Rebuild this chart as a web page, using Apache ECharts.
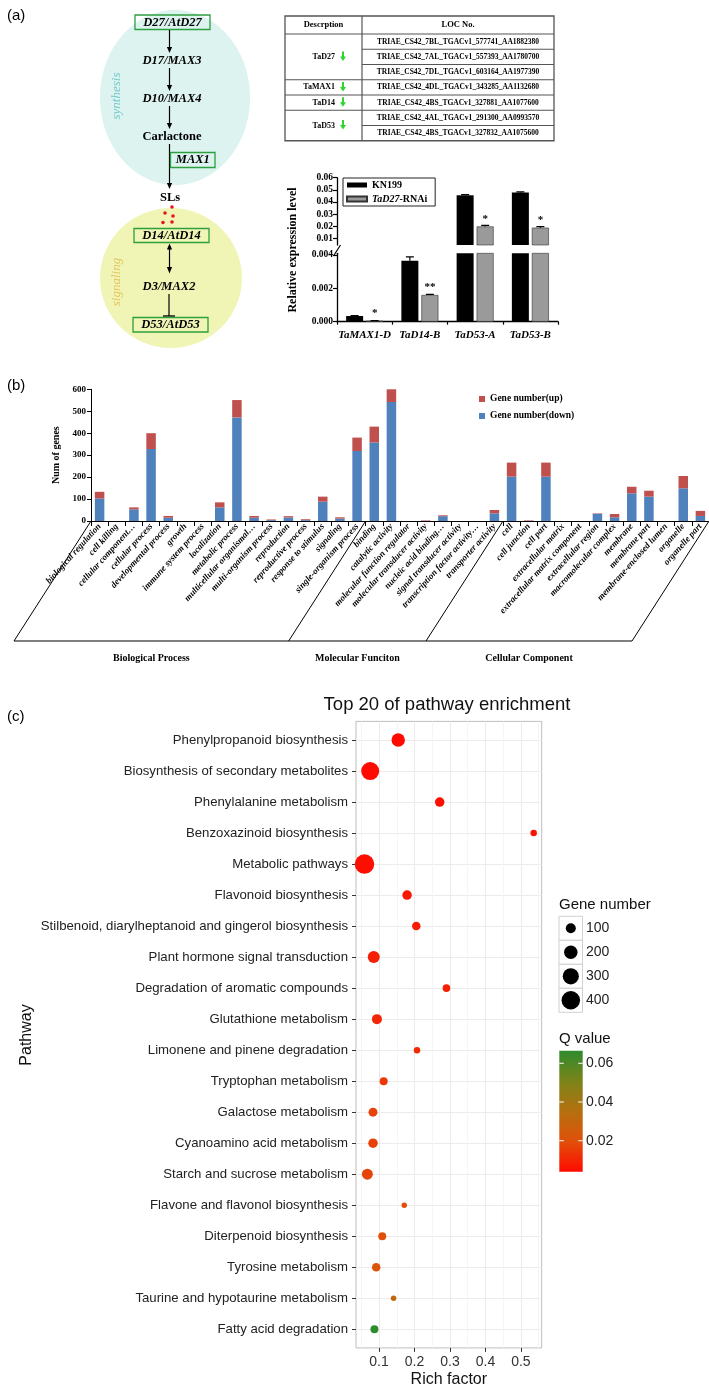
<!DOCTYPE html>
<html>
<head>
<meta charset="utf-8">
<script src="https://cdn.jsdelivr.net/npm/echarts@6.0.0/dist/echarts.min.js"></script>
<style>
html, body { margin: 0; padding: 0; background: #fff; }
#main { width: 709px; height: 1388px; }
</style>
</head>
<body>
<div id="main"></div>
<script>
// ---------- panel (a): expression of SL genes
var genes = ['TaMAX1-D', 'TaD14-B', 'TaD53-A', 'TaD53-B'];
var kn199 = [0.00034, 0.00366, 0.0455, 0.0478];
var rnai = [0.00006, 0.0016, 0.0198, 0.0188];
var kn199Err = [0.00003, 0.00022, 0.0006, 0.0005];
var rnaiErr = [0.00001, 0.00004, 0.0009, 0.0008];
var sigMarks = ['*', '**', '*', '*'];
var upperTicks = [0.01, 0.02, 0.03, 0.04, 0.05, 0.06];
var lowerTicks = [0, 0.002, 0.004];

// table of LOC numbers
var tableGroups = ['TaD27', 'TaMAX1', 'TaD14', 'TaD53'];
var tableGroupRows = [3, 1, 1, 2];
var locNos = [
  'TRIAE_CS42_7BL_TGACv1_577741_AA1882380',
  'TRIAE_CS42_7AL_TGACv1_557393_AA1780700',
  'TRIAE_CS42_7DL_TGACv1_603164_AA1977390',
  'TRIAE_CS42_4DL_TGACv1_343285_AA1132680',
  'TRIAE_CS42_4BS_TGACv1_327881_AA1077600',
  'TRIAE_CS42_4AL_TGACv1_291300_AA0993570',
  'TRIAE_CS42_4BS_TGACv1_327832_AA1075600'
];

// ---------- panel (b): GO classification
var goCategories = [
  'biological regulation', 'cell killing', 'cellular component…', 'cellular process',
  'developmental process', 'growth', 'immune system process', 'localization',
  'metabolic process', 'multicellular organismal…', 'multi-organism process', 'reproduction',
  'reproductive process', 'response to stimulus', 'signaling', 'single-organism process',
  'binding', 'catalytic activity', 'molecular function regulator', 'molecular transducer activity',
  'nucleic acid binding…', 'signal transducer activity', 'transcription factor activity…', 'transporter activity',
  'cell', 'cell junction', 'cell part', 'extracellular matrix',
  'extracellular matrix component', 'extracellular region', 'macromolecular complex', 'membrane',
  'membrane part', 'membrane-enclosed lumen', 'organelle', 'organelle part'
];
var goDown = [103, 0, 53, 328, 15, 0, 0, 62, 472, 15, 4, 16, 4, 88, 11, 319,
              358, 542, 0, 1, 22, 0, 0, 35,
              202, 1, 202, 0, 0, 33, 17, 126, 111, 0, 149, 23];
var goUp = [30, 0, 9, 72, 8, 0, 0, 23, 79, 8, 3, 6, 4, 23, 6, 61,
            72, 60, 0, 2, 4, 0, 0, 15,
            64, 2, 64, 0, 0, 2, 15, 30, 27, 0, 56, 23];
var goGroups = ['Biological Process', 'Molecular Funciton', 'Cellular Component'];
var goGroupSizes = [16, 8, 12];

// ---------- panel (c): KEGG enrichment
var pathways = [
  'Phenylpropanoid biosynthesis', 'Biosynthesis of secondary metabolites', 'Phenylalanine metabolism',
  'Benzoxazinoid biosynthesis', 'Metabolic pathways', 'Flavonoid biosynthesis',
  'Stilbenoid, diarylheptanoid and gingerol biosynthesis', 'Plant hormone signal transduction',
  'Degradation of aromatic compounds', 'Glutathione metabolism', 'Limonene and pinene degradation',
  'Tryptophan metabolism', 'Galactose metabolism', 'Cyanoamino acid metabolism',
  'Starch and sucrose metabolism', 'Flavone and flavonol biosynthesis', 'Diterpenoid biosynthesis',
  'Tyrosine metabolism', 'Taurine and hypotaurine metabolism', 'Fatty acid degradation'
];
var richFactor = [0.154, 0.075, 0.271, 0.536, 0.059, 0.179, 0.205, 0.085, 0.290, 0.094,
                  0.207, 0.113, 0.083, 0.083, 0.067, 0.171, 0.109, 0.092, 0.141, 0.087];
var geneNumber = [200, 378, 88, 28, 447, 88, 66, 155, 46, 100,
                  28, 55, 76, 88, 126, 13, 55, 66, 13, 55];
var qValue = [0.004, 0.004, 0.005, 0.006, 0.005, 0.007, 0.008, 0.009, 0.009, 0.010,
              0.011, 0.014, 0.016, 0.016, 0.017, 0.019, 0.020, 0.021, 0.030, 0.0665];
var richTicks = [0.1, 0.2, 0.3, 0.4, 0.5];
var richMinor = [0.05, 0.15, 0.25, 0.35, 0.45, 0.55];
var sizeLegend = [100, 200, 300, 400];
var qTicks = [0.02, 0.04, 0.06];
var qColors = ['#ff0a00', '#e0500a', '#b5700f', '#7b8419', '#2e8b2e'];

var SERIF = '"Liberation Serif", "Times New Roman", serif';
var NARROW = '"Liberation Sans Narrow", "Liberation Sans", Arial, sans-serif';
var SANS = '"Liberation Sans", Arial, sans-serif';

var chart = echarts.init(document.getElementById('main'));

// grid boxes
var gAU = {left: 337, top: 177.7, width: 221, height: 67.3};
var gAL = {left: 337, top: 253.3, width: 221, height: 68.4};
var gB = {left: 91, top: 389.3, width: 618, height: 131.7};
var gC = {left: 356, top: 721.4, width: 185.7, height: 626.5};

var barW = 17, barGapPx = 3;

function sizeFor(n) { return Math.sqrt(19.3 + 0.807 * n); }

// ---------- graphic helpers
var g = [];
function txt(x, y, s, font, o) {
  o = o || {};
  g.push({
    type: 'text', x: x, y: y, rotation: o.rot || 0, silent: true,
    style: {
      text: s, font: font, fill: o.fill || '#000',
      textAlign: o.align || 'center', align: o.align || 'center',
      textVerticalAlign: 'middle', verticalAlign: 'middle'
    }
  });
}
function line(x1, y1, x2, y2, color, w) {
  g.push({type: 'line', silent: true, shape: {x1: x1, y1: y1, x2: x2, y2: y2},
          style: {stroke: color || '#000', lineWidth: w || 1}});
}
function poly(pts, color) {
  g.push({type: 'polygon', silent: true, shape: {points: pts}, style: {fill: color || '#000'}});
}
function box(x, y, w, h, stroke, fill, lw) {
  g.push({type: 'rect', silent: true, shape: {x: x, y: y, width: w, height: h},
          style: {stroke: stroke || 'none', fill: fill || 'none', lineWidth: lw || 1}});
}
function downArrow(x, y1, y2) {
  line(x, y1, x, y2 - 5, '#000', 1.2);
  poly([[x - 2.6, y2 - 6], [x + 2.6, y2 - 6], [x, y2]]);
}
function upHead(x, y) {
  poly([[x - 2.6, y + 6], [x + 2.6, y + 6], [x, y]]);
}
function greenArrow(x, y) {
  box(x - 1, y - 5, 2, 6, 'none', '#2fd52f');
  poly([[x - 3, y], [x + 3, y], [x, y + 4.5]], '#2fd52f');
}

// ---------- panel labels
txt(7, 16, '(a)', '15px ' + SANS, {align: 'left'});
txt(7, 385.5, '(b)', '15px ' + SANS, {align: 'left'});
txt(7, 716.5, '(c)', '15px ' + SANS, {align: 'left'});

// ---------- pathway diagram
g.push({type: 'ellipse', silent: true, shape: {cx: 175, cy: 97.5, rx: 75, ry: 87.5}, style: {fill: '#dcf3ef'}});
g.push({type: 'ellipse', silent: true, shape: {cx: 171, cy: 278, rx: 71, ry: 70}, style: {fill: '#f0f5b6'}});
var fBI = 'italic bold 12.5px ' + SERIF;
var fB = 'bold 12.5px ' + SERIF;
txt(117, 96, 'synthesis', 'italic 13px ' + SERIF, {rot: Math.PI / 2, fill: '#72c7cd'});
txt(117, 282, 'signaling', 'italic 13px ' + SERIF, {rot: Math.PI / 2, fill: '#e3c45c'});
box(135, 15, 75, 14.5, '#2e9e3e', 'none', 1.3);
txt(172.5, 22.5, 'D27/AtD27', fBI);
downArrow(169.5, 30, 53);
txt(172, 61, 'D17/MAX3', fBI);
downArrow(169.5, 68, 91);
txt(172, 99, 'D10/MAX4', fBI);
downArrow(169.5, 106, 129);
txt(172, 137, 'Carlactone', fB);
downArrow(169.5, 144, 189);
box(170.5, 152.5, 44.5, 15, '#2e9e3e', 'none', 1.3);
txt(192.8, 160.2, 'MAX1', fBI);
txt(170, 197.5, 'SLs', fB);
[[172, 207], [165, 213], [173, 216], [163, 222.5], [172, 222]].forEach(function (p) {
  g.push({type: 'circle', silent: true, shape: {cx: p[0], cy: p[1], r: 1.8}, style: {fill: '#e8141b'}});
});
box(134, 228.5, 75, 14, '#2e9e3e', 'none', 1.3);
txt(171.5, 235.5, 'D14/AtD14', fBI);
line(169.5, 249, 169.5, 268, '#000', 1.2);
upHead(169.5, 243.5);
poly([[166.9, 267], [172.1, 267], [169.5, 273.5]]);
txt(169, 287, 'D3/MAX2', fBI);
line(169, 294, 169, 316, '#000', 1.2);
line(163, 316, 175, 316, '#000', 1.4);
box(133, 317.5, 75, 14.5, '#2e9e3e', 'none', 1.3);
txt(170.5, 324.8, 'D53/AtD53', fBI);

// ---------- LOC table
var tL = 285, tM = 362, tR = 554, tTop = 16, tHead = 34, tRow = 15.25;
var tBottom = tHead + tRow * locNos.length;
box(tL, tTop, tR - tL, tBottom - tTop, '#555', '#fff', 1.3);
line(tM, tTop, tM, tBottom, '#555', 1.2);
line(tL, tHead, tR, tHead, '#555', 1.2);
txt((tL + tM) / 2, 25, 'Descrption', 'bold 8.5px ' + SERIF);
txt((tM + tR) / 2, 25, 'LOC No.', 'bold 8.5px ' + SERIF);
locNos.forEach(function (s, i) {
  var y0 = tHead + i * tRow;
  if (i > 0) line(tM, y0, tR, y0, '#555', 1.1);
  txt((tM + tR) / 2, y0 + tRow / 2, s, 'bold 7.5px ' + SERIF);
});
var rowAcc = 0;
tableGroups.forEach(function (name, i) {
  var y0 = tHead + rowAcc * tRow;
  var y1 = y0 + tableGroupRows[i] * tRow;
  if (i > 0) line(tL, y0, tM, y0, '#555', 1.1);
  txt(335, (y0 + y1) / 2, name, 'bold 8px ' + SERIF, {align: 'right'});
  greenArrow(343, (y0 + y1) / 2 - 0.5);
  rowAcc += tableGroupRows[i];
});

// ---------- panel (a) bar chart decorations
txt(293, 250, 'Relative expression level', 'bold 12px ' + SERIF, {rot: Math.PI / 2});
line(333.5, 256, 340.5, 245, '#000', 1.2);

// ---------- panel (b) brackets below the axis
var catW = gB.width / goCategories.length;
var axisY = gB.top + gB.height;
var slDx = -77, slDy = 120;
var cum = 0;
var bounds = [0];
goGroupSizes.forEach(function (n) { cum += n; bounds.push(cum); });
bounds.forEach(function (k) {
  var x = gB.left + k * catW;
  line(x, axisY, x + slDx, axisY + slDy, '#000', 1);
});
line(gB.left + slDx, axisY + slDy, gB.left + gB.width + slDx, axisY + slDy, '#000', 1.2);
goGroups.forEach(function (name, i) {
  var xa = gB.left + bounds[i] * catW + slDx;
  var xb = gB.left + bounds[i + 1] * catW + slDx;
  txt((xa + xb) / 2, axisY + slDy + 17, name, 'bold 10px ' + SERIF);
});

// ---------- panel (c) texts and legends
txt(447, 705, 'Top 20 of pathway enrichment', '18.5px ' + NARROW, {fill: '#111'});
txt(27, 1035, 'Pathway', '16px ' + NARROW, {rot: Math.PI / 2, fill: '#111'});
txt(559, 905, 'Gene number', '15px ' + NARROW, {align: 'left', fill: '#111'});
sizeLegend.forEach(function (v, i) {
  var y0 = 916.3 + i * 24;
  box(559, y0, 23.5, 24, '#d0d0d0', '#fff', 1);
  g.push({type: 'circle', silent: true, shape: {cx: 570.8, cy: y0 + 12, r: sizeFor(v) / 2}, style: {fill: '#000'}});
  txt(586, y0 + 12, String(v), '14px ' + NARROW, {align: 'left', fill: '#222'});
});
var qMin = Math.min.apply(null, qValue), qMax = Math.max.apply(null, qValue);
var cb = {x: 559.3, y: 1050.7, w: 23.4, h: 121};
txt(559, 1039, 'Q value', '15px ' + NARROW, {align: 'left', fill: '#111'});
g.push({
  type: 'rect', silent: true, shape: {x: cb.x, y: cb.y, width: cb.w, height: cb.h},
  style: {fill: new echarts.graphic.LinearGradient(0, 1, 0, 0, qColors.map(function (c, i) {
    return {offset: i / (qColors.length - 1), color: c};
  }))}
});
qTicks.forEach(function (v) {
  var y = cb.y + cb.h * (1 - (v - qMin) / (qMax - qMin));
  line(cb.x, y, cb.x + 4.5, y, '#fff', 1);
  line(cb.x + cb.w - 4.5, y, cb.x + cb.w, y, '#fff', 1);
  txt(586, y, v.toFixed(2), '14px ' + NARROW, {align: 'left', fill: '#222'});
});

// ---------- series
var series = [];
function barItems(vals, lo, hi, withSig) {
  return vals.map(function (v, i) {
    var inside = v >= lo && v <= hi;
    return {
      value: v,
      label: {show: withSig && inside, formatter: sigMarks[i], position: 'top', distance: 2,
               fontFamily: SERIF, fontWeight: 'bold', fontSize: 11, color: '#000'}
    };
  });
}
function errSeries(gi, vals, errs, off) {
  return {
    type: 'custom', name: 'err', xAxisIndex: gi, yAxisIndex: gi, clip: true, silent: true, z: 3,
    data: vals.map(function (v, i) { return [i, v, errs[i]]; }),
    renderItem: function (params, api) {
      var p0 = api.coord([api.value(0), api.value(1)]);
      var p1 = api.coord([api.value(0), api.value(1) + api.value(2)]);
      var x = p0[0] + off;
      return {
        type: 'group', children: [
          {type: 'line', shape: {x1: x, y1: p0[1], x2: x, y2: p1[1]}, style: {stroke: '#000', lineWidth: 1.2}},
          {type: 'line', shape: {x1: x - 4, y1: p1[1], x2: x + 4, y2: p1[1]}, style: {stroke: '#000', lineWidth: 1.2}}
        ]
      };
    }
  };
}
var upperMin = 0.0045, lowerMax = 0.0041;
[0, 1].forEach(function (gi) {
  var lo = gi === 0 ? upperMin : 0, hi = gi === 0 ? 0.06 : lowerMax;
  series.push({type: 'bar', name: 'KN199', xAxisIndex: gi, yAxisIndex: gi, barWidth: barW,
               barGap: (barGapPx / barW * 100) + '%', clip: true,
               itemStyle: {color: '#000'}, data: barItems(kn199, lo, hi, false)});
  series.push({type: 'bar', name: 'TaD27-RNAi', xAxisIndex: gi, yAxisIndex: gi, barWidth: barW,
               barGap: (barGapPx / barW * 100) + '%', clip: true,
               itemStyle: {color: '#9a9a9a', borderColor: '#333', borderWidth: 0.6},
               data: barItems(rnai, lo, hi, true)});
  series.push(errSeries(gi, kn199, kn199Err, -(barW + barGapPx) / 2));
  series.push(errSeries(gi, rnai, rnaiErr, (barW + barGapPx) / 2));
});
series.push({type: 'bar', name: 'Gene number(down)', xAxisIndex: 2, yAxisIndex: 2, stack: 'go',
             barWidth: 9.5, itemStyle: {color: '#4f81bd'}, data: goDown});
series.push({type: 'bar', name: 'Gene number(up)', xAxisIndex: 2, yAxisIndex: 2, stack: 'go',
             barWidth: 9.5, itemStyle: {color: '#c0504d'}, data: goUp});
var scatterIdx = series.length;
series.push({
  type: 'scatter', name: 'pathway', xAxisIndex: 3, yAxisIndex: 3,
  data: pathways.map(function (p, i) { return [richFactor[i], i, qValue[i], geneNumber[i]]; }),
  symbolSize: function (v) { return sizeFor(v[3]); },
  itemStyle: {opacity: 1}, emphasis: {disabled: true}
});

var axisBlack = {onZero: false, lineStyle: {color: '#000', width: 1.3}};
var serifLbl = {fontFamily: SERIF, fontWeight: 'bold', fontSize: 9.5, color: '#000'};
var pathIdx = pathways.map(function (p, i) { return i; });

var option = {
  animation: false,
  textStyle: {fontFamily: SERIF},
  grid: [
    Object.assign({outerBoundsMode: 'none', containLabel: false}, gAU),
    Object.assign({outerBoundsMode: 'none', containLabel: false}, gAL),
    Object.assign({outerBoundsMode: 'none', containLabel: false}, gB),
    Object.assign({outerBoundsMode: 'none', containLabel: false, show: true, borderColor: '#bdbdbd',
                   borderWidth: 1, backgroundColor: '#fff'}, gC)
  ],
  xAxis: [
    {gridIndex: 0, type: 'category', data: genes, show: false},
    {gridIndex: 1, type: 'category', data: genes, axisLine: axisBlack,
     axisTick: {show: true, length: 3, lineStyle: {color: '#000', width: 1.2}},
     axisLabel: {interval: 0, fontFamily: SERIF, fontWeight: 'bold', fontStyle: 'italic', fontSize: 11,
                 color: '#000', margin: 8}},
    {gridIndex: 2, type: 'category', data: goCategories,
     axisLine: {onZero: false, lineStyle: {color: '#000', width: 1}},
     axisTick: {show: true, interval: 0, length: 5, lineStyle: {color: '#000'}},
     axisLabel: {interval: 0, rotate: 48, margin: 4, fontFamily: SERIF, fontWeight: 'bold',
                 fontStyle: 'italic', fontSize: 9, color: '#000'}},
    {gridIndex: 3, type: 'value', min: 0.035, max: 0.5586, position: 'bottom',
     axisLine: {show: false, onZero: false},
     axisTick: {show: true, length: 4, customValues: richTicks, lineStyle: {color: '#333'}},
     axisLabel: {customValues: richTicks, formatter: function (v) { return String(+v.toFixed(1)); },
                 fontFamily: NARROW, fontSize: 14, color: '#333', margin: 7},
     splitLine: {show: true, lineStyle: {color: '#ebebeb', width: 1}},
     name: 'Rich factor', nameLocation: 'middle', nameGap: 24,
     nameTextStyle: {fontFamily: NARROW, fontSize: 16, color: '#111'}},
    {gridIndex: 3, type: 'value', min: 0.035, max: 0.5586, position: 'top',
     axisLine: {show: false, onZero: false}, axisTick: {show: false, customValues: richMinor},
     axisLabel: {show: false, customValues: richMinor},
     splitLine: {show: true, lineStyle: {color: '#f3f3f3', width: 0.8}}}
  ],
  yAxis: [
    {gridIndex: 0, type: 'value', min: upperMin, max: 0.06, axisLine: Object.assign({show: true}, axisBlack),
     axisTick: {show: true, length: 4, customValues: upperTicks, lineStyle: {color: '#000', width: 1.2}},
     axisLabel: Object.assign({customValues: upperTicks, margin: 4,
                               formatter: function (v) { return v.toFixed(2); }}, serifLbl),
     splitLine: {show: false}},
    {gridIndex: 1, type: 'value', min: 0, max: lowerMax, axisLine: Object.assign({show: true}, axisBlack),
     axisTick: {show: true, length: 4, customValues: lowerTicks, lineStyle: {color: '#000', width: 1.2}},
     axisLabel: Object.assign({customValues: lowerTicks, margin: 4,
                               formatter: function (v) { return v.toFixed(3); }}, serifLbl),
     splitLine: {show: false}},
    {gridIndex: 2, type: 'value', min: 0, max: 600, interval: 100,
     axisLine: {show: true, onZero: false, lineStyle: {color: '#000', width: 1}},
     axisTick: {show: true, length: 4, lineStyle: {color: '#000'}},
     axisLabel: Object.assign({margin: 5}, serifLbl, {fontSize: 9}),
     splitLine: {show: false},
     name: 'Num of genes', nameLocation: 'middle', nameGap: 25, nameRotate: 90,
     nameTextStyle: {fontFamily: SERIF, fontWeight: 'bold', fontSize: 10, color: '#000'}},
    {gridIndex: 3, type: 'value', min: -0.6, max: pathways.length - 0.4, inverse: true,
     axisLine: {show: false, onZero: false},
     axisTick: {show: true, length: 4, customValues: pathIdx, lineStyle: {color: '#333'}},
     axisLabel: {customValues: pathIdx,
                 formatter: function (v) { return pathways[Math.round(v)]; },
                 fontFamily: NARROW, fontSize: 13.2, color: '#222', margin: 8},
     splitLine: {show: true, lineStyle: {color: '#ebebeb', width: 1}}}
  ],
  legend: [
    {data: ['KN199', 'TaD27-RNAi'], left: 343, top: 178, orient: 'vertical', icon: 'rect',
     itemWidth: 20, itemHeight: 5, itemGap: 4, padding: [2, 8, 2, 3], borderColor: '#222', borderWidth: 1,
     selectedMode: false,
     formatter: function (n) { return n === 'TaD27-RNAi' ? '{i|TaD27}-RNAi' : n; },
     textStyle: {fontFamily: SERIF, fontWeight: 'bold', fontSize: 10, color: '#000',
                 rich: {i: {fontFamily: SERIF, fontWeight: 'bold', fontStyle: 'italic', fontSize: 10, color: '#000'}}}},
    {data: ['Gene number(up)', 'Gene number(down)'], left: 479, top: 394, orient: 'vertical', icon: 'rect',
     itemWidth: 6, itemHeight: 6, itemGap: 7, padding: 0, selectedMode: false,
     textStyle: {fontFamily: SERIF, fontWeight: 'bold', fontSize: 9.5, color: '#000'}}
  ],
  visualMap: [{
    type: 'continuous', show: false, seriesIndex: scatterIdx, dimension: 2,
    min: qMin, max: qMax, inRange: {color: qColors}
  }],
  graphic: {elements: g},
  series: series
};
chart.setOption(option);
</script>
</body>
</html>
